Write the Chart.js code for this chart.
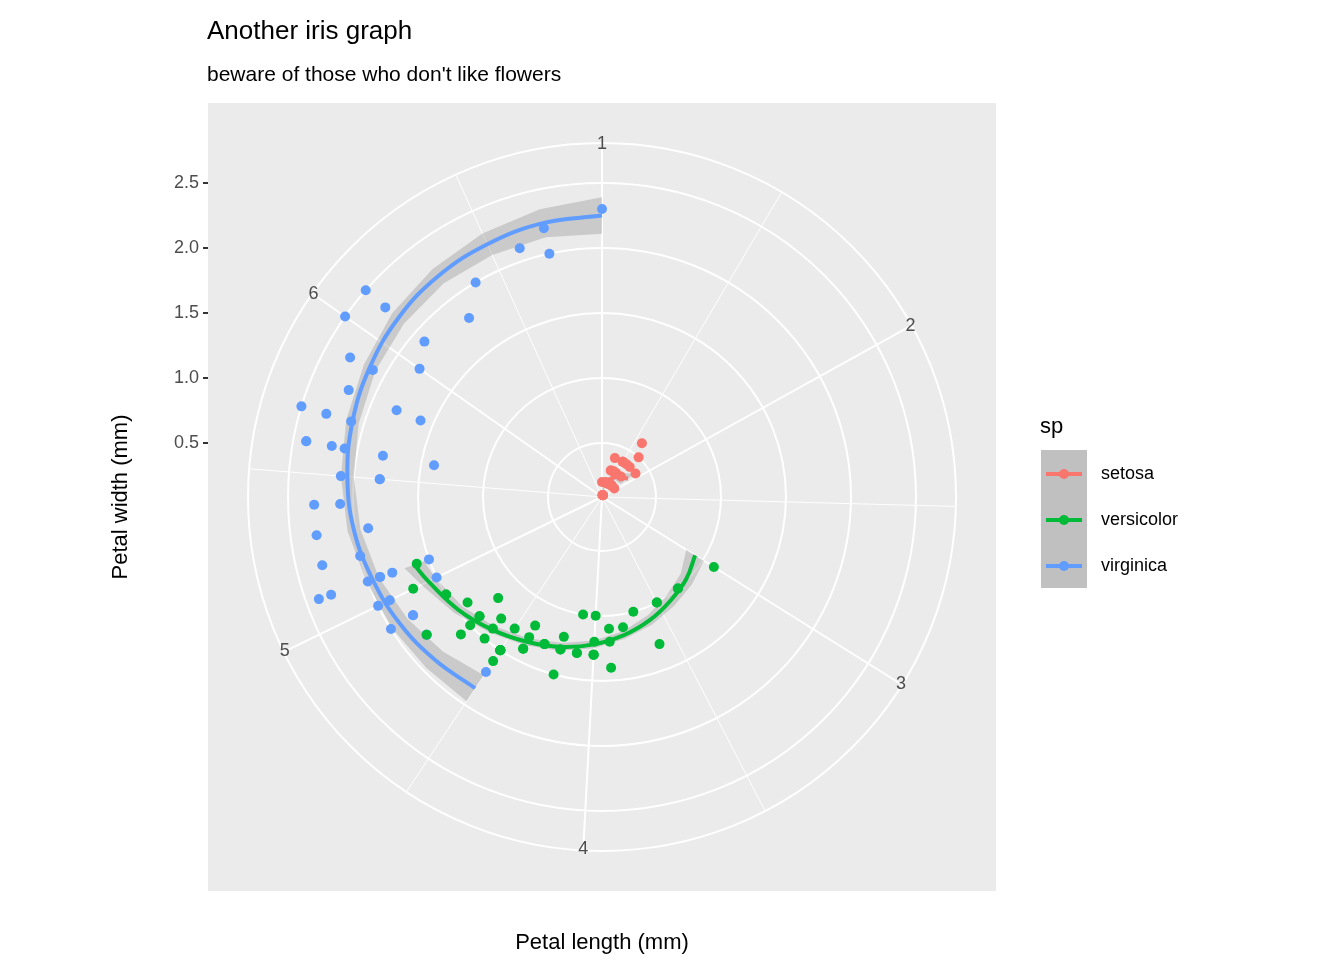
<!DOCTYPE html>
<html lang="en">
<head>
<meta charset="UTF-8">
<title>Another iris graph</title>
<script src="https://cdn.jsdelivr.net/npm/chart.js"></script>
<style>
  html, body { margin: 0; padding: 0; background: #fff; }
  #wrap { width: 1344px; height: 960px; }
</style>
</head>
<body>
<div id="wrap"><canvas id="irisChart" width="1344" height="960"></canvas></div>
<script>
  // iris petal measurements (length, width) per species
  const setosaLength = [1.4,1.4,1.3,1.5,1.4,1.7,1.4,1.5,1.4,1.5,1.5,1.6,1.4,1.1,1.2,1.5,1.3,1.4,1.7,1.5,1.7,1.5,1.0,1.7,1.9,1.6,1.6,1.5,1.4,1.6,1.6,1.5,1.5,1.4,1.5,1.2,1.3,1.4,1.3,1.5,1.3,1.3,1.3,1.6,1.9,1.4,1.6,1.4,1.5,1.4];
  const setosaWidth  = [0.2,0.2,0.2,0.2,0.2,0.4,0.3,0.2,0.2,0.1,0.2,0.2,0.1,0.1,0.2,0.4,0.4,0.3,0.3,0.3,0.2,0.4,0.2,0.5,0.2,0.2,0.4,0.2,0.2,0.2,0.2,0.4,0.1,0.2,0.2,0.2,0.2,0.1,0.2,0.2,0.3,0.3,0.2,0.6,0.4,0.3,0.2,0.2,0.2,0.2];
  const versicolorLength = [4.7,4.5,4.9,4.0,4.6,4.5,4.7,3.3,4.6,3.9,3.5,4.2,4.0,4.7,3.6,4.4,4.5,4.1,4.5,3.9,4.8,4.0,4.9,4.7,4.3,4.4,4.8,5.0,4.5,3.5,3.8,3.7,3.9,5.1,4.5,4.5,4.7,4.4,4.1,4.0,4.4,4.6,4.0,3.3,4.2,4.2,4.2,4.3,3.0,4.1];
  const versicolorWidth  = [1.4,1.5,1.5,1.3,1.5,1.3,1.6,1.0,1.3,1.4,1.0,1.5,1.0,1.4,1.3,1.4,1.5,1.0,1.5,1.1,1.8,1.3,1.5,1.2,1.3,1.4,1.4,1.7,1.5,1.0,1.1,1.0,1.2,1.6,1.5,1.6,1.5,1.3,1.3,1.3,1.2,1.4,1.2,1.0,1.3,1.2,1.3,1.3,1.1,1.3];
  const virginicaLength = [6.0,5.1,5.9,5.6,5.8,6.6,4.5,6.3,5.8,6.1,5.1,5.3,5.5,5.0,5.1,5.3,5.5,6.7,6.9,5.0,5.7,4.9,6.7,4.9,5.7,6.0,4.8,4.9,5.6,5.8,6.1,6.4,5.6,5.1,5.6,6.1,5.6,5.5,4.8,5.4,5.6,5.1,5.1,5.9,5.7,5.2,5.0,5.2,5.4,5.1];
  const virginicaWidth  = [2.5,1.9,2.1,1.8,2.2,2.1,1.7,1.8,1.8,2.5,2.0,1.9,2.1,2.0,2.4,2.3,1.8,2.2,2.3,1.5,2.3,2.0,2.0,1.8,2.1,1.8,1.8,1.8,2.1,1.6,1.9,2.0,2.2,1.5,1.4,2.3,2.4,1.8,1.8,2.1,2.4,2.3,1.9,2.3,2.5,2.3,1.9,2.0,2.3,1.8];

  // loess fits: length, fitted width, band half-width
  const setosaFitLength = [1.0,1.3,1.6,1.9];
  const setosaFitWidth  = [0.17,0.22,0.28,0.33];
  const setosaFitSe     = [0.06,0.03,0.03,0.07];
  const versicolorFitLength = [3.0,3.2,3.4,3.6,3.8,4.0,4.2,4.4,4.6,4.8,5.0,5.1];
  const versicolorFitWidth  = [0.93,0.99,1.04,1.10,1.16,1.22,1.28,1.34,1.41,1.49,1.57,1.62];
  const versicolorFitSe     = [0.08,0.06,0.05,0.04,0.03,0.03,0.03,0.03,0.03,0.04,0.06,0.08];
  const virginicaFitLength = [4.5,4.7,4.9,5.1,5.3,5.5,5.7,5.9,6.1,6.3,6.5,6.7,6.9];
  const virginicaFitWidth  = [1.85,1.88,1.92,1.96,2.01,2.05,2.09,2.13,2.17,2.20,2.22,2.24,2.25];
  const virginicaFitSe     = [0.12,0.09,0.07,0.05,0.05,0.05,0.05,0.05,0.06,0.07,0.09,0.11,0.14];

  const speciesNames  = ['setosa', 'versicolor', 'virginica'];
  const speciesColors = ['#F8766D', '#00BA38', '#619CFF'];
  const thetaTicks = [1, 2, 3, 4, 5, 6];
  const radiusTicks = [0.5, 1.0, 1.5, 2.0, 2.5];

  // polar coordinate helpers (theta = length, radius = width)
  const LEN_MIN = 1.0, LEN_MAX = 6.9, R0 = 0.085, OUTER = 354 / 130;
  function toXY(len, w) {
    const a = (len - LEN_MIN) / (LEN_MAX - LEN_MIN) * 2 * Math.PI;
    const r = w - R0;
    return { x: r * Math.sin(a), y: r * Math.cos(a) };
  }
  function points(lens, widths) {
    return lens.map((l, i) => toXY(l, widths[i]));
  }

  const fits = [
    [setosaFitLength, setosaFitWidth, setosaFitSe],
    [versicolorFitLength, versicolorFitWidth, versicolorFitSe],
    [virginicaFitLength, virginicaFitWidth, virginicaFitSe]
  ];
  const raw = [
    [setosaLength, setosaWidth],
    [versicolorLength, versicolorWidth],
    [virginicaLength, virginicaWidth]
  ];

  const datasets = [];
  fits.forEach((f, i) => {
    datasets.push({
      type: 'line', data: points(f[0], f[1]), borderColor: speciesColors[i],
      borderWidth: 4, pointRadius: 0, tension: 0.4, fill: false, order: 2
    });
  });
  raw.forEach((d, i) => {
    datasets.push({
      type: 'scatter', data: points(d[0], d[1]), backgroundColor: speciesColors[i],
      borderWidth: 0, pointRadius: 5, pointHoverRadius: 5, order: 1
    });
  });

  const polarPlugin = {
    id: 'polarPlugin',
    beforeDatasetsDraw(chart) {
      const ctx = chart.ctx, xs = chart.scales.x, ys = chart.scales.y;
      const px = p => [xs.getPixelForValue(p.x), ys.getPixelForValue(p.y)];
      const cx = xs.getPixelForValue(0), cy = ys.getPixelForValue(0);
      const unit = xs.getPixelForValue(1) - cx;
      const area = chart.chartArea;
      ctx.save();
      ctx.fillStyle = '#EBEBEB';
      ctx.fillRect(area.left, area.top, area.right - area.left, area.bottom - area.top);
      ctx.strokeStyle = '#FFFFFF';
      // minor spokes
      ctx.lineWidth = 1;
      [1.5, 2.5, 3.5, 4.5, 5.5, 6.5].forEach(t => {
        const [x, y] = px(toXY(t, R0 + OUTER));
        ctx.beginPath(); ctx.moveTo(cx, cy); ctx.lineTo(x, y); ctx.stroke();
      });
      // major spokes
      ctx.lineWidth = 2;
      thetaTicks.forEach(t => {
        const [x, y] = px(toXY(t, R0 + OUTER));
        ctx.beginPath(); ctx.moveTo(cx, cy); ctx.lineTo(x, y); ctx.stroke();
      });
      // rings
      radiusTicks.concat([R0 + OUTER]).forEach(w => {
        ctx.beginPath(); ctx.arc(cx, cy, (w - R0) * unit, 0, 2 * Math.PI); ctx.stroke();
      });
      // theta labels
      ctx.fillStyle = '#4D4D4D';
      ctx.font = '18px "Liberation Sans", Arial, sans-serif';
      ctx.textAlign = 'center'; ctx.textBaseline = 'middle';
      thetaTicks.forEach(t => {
        const [x, y] = px(toXY(t, R0 + OUTER - 0.01));
        ctx.fillText(String(t), x, y);
      });
      // confidence bands
      ctx.fillStyle = 'rgba(153,153,153,0.4)';
      fits.forEach(f => {
        ctx.beginPath();
        f[0].forEach((l, i) => {
          const [x, y] = px(toXY(l, f[1][i] + f[2][i]));
          i ? ctx.lineTo(x, y) : ctx.moveTo(x, y);
        });
        for (let i = f[0].length - 1; i >= 0; i--) {
          const [x, y] = px(toXY(f[0][i], f[1][i] - f[2][i]));
          ctx.lineTo(x, y);
        }
        ctx.closePath(); ctx.fill();
      });
      ctx.restore();
    },
    afterDraw(chart) {
      const ctx = chart.ctx;
      ctx.save();
      ctx.fillStyle = '#000';
      ctx.textAlign = 'left'; ctx.textBaseline = 'alphabetic';
      ctx.font = '26px "Liberation Sans", Arial, sans-serif';
      ctx.fillText('Another iris graph', 207, 39);
      ctx.font = '21px "Liberation Sans", Arial, sans-serif';
      ctx.fillText("beware of those who don't like flowers", 207, 81);
      // legend
      ctx.font = '22px "Liberation Sans", Arial, sans-serif';
      ctx.fillText('sp', 1040, 433);
      ctx.fillStyle = '#C0C0C0';
      ctx.fillRect(1041, 450, 46, 138);
      ctx.font = '18px "Liberation Sans", Arial, sans-serif';
      ctx.textBaseline = 'middle';
      speciesNames.forEach((n, i) => {
        const y = 474 + i * 46;
        ctx.strokeStyle = speciesColors[i]; ctx.lineWidth = 4;
        ctx.beginPath(); ctx.moveTo(1046, y); ctx.lineTo(1082, y); ctx.stroke();
        ctx.fillStyle = speciesColors[i];
        ctx.beginPath(); ctx.arc(1064, y, 5, 0, 2 * Math.PI); ctx.fill();
        ctx.fillStyle = '#000';
        ctx.fillText(n, 1101, y);
      });
      ctx.restore();
    }
  };

  const half = 394 / 130;
  new Chart(document.getElementById('irisChart'), {
    type: 'scatter',
    data: { datasets: datasets },
    plugins: [polarPlugin],
    options: {
      responsive: false,
      animation: false,
      layout: { padding: { left: 108, right: 348, top: 103, bottom: 0 } },
      plugins: { legend: { display: false }, tooltip: { enabled: false } },
      scales: {
        x: {
          min: -half, max: half,
          ticks: { display: false }, grid: { display: false }, border: { display: false },
          title: { display: true, text: 'Petal length (mm)', color: '#000',
                   font: { size: 22, family: '"Liberation Sans", Arial, sans-serif' }, padding: { top: 24 } },
          afterFit(s) { s.height = 69; }
        },
        y: { min: -half, max: half, display: false },
        r: {
          position: 'left', type: 'linear',
          min: -half + R0, max: half + R0,
          afterBuildTicks(s) { s.ticks = radiusTicks.map(v => ({ value: v })); },
          ticks: { color: '#4D4D4D', padding: 4, font: { size: 18, family: '"Liberation Sans", Arial, sans-serif' },
                   callback: v => v.toFixed(1) },
          grid: { drawOnChartArea: false, drawTicks: true, tickLength: 5, color: '#333', lineWidth: 2 },
          border: { display: false },
          title: { display: true, text: 'Petal width (mm)', color: '#000',
                   font: { size: 22, family: '"Liberation Sans", Arial, sans-serif' }, padding: 0 },
          afterFit(s) { s.width = 100; }
        }
      }
    }
  });
</script>
</body>
</html>
